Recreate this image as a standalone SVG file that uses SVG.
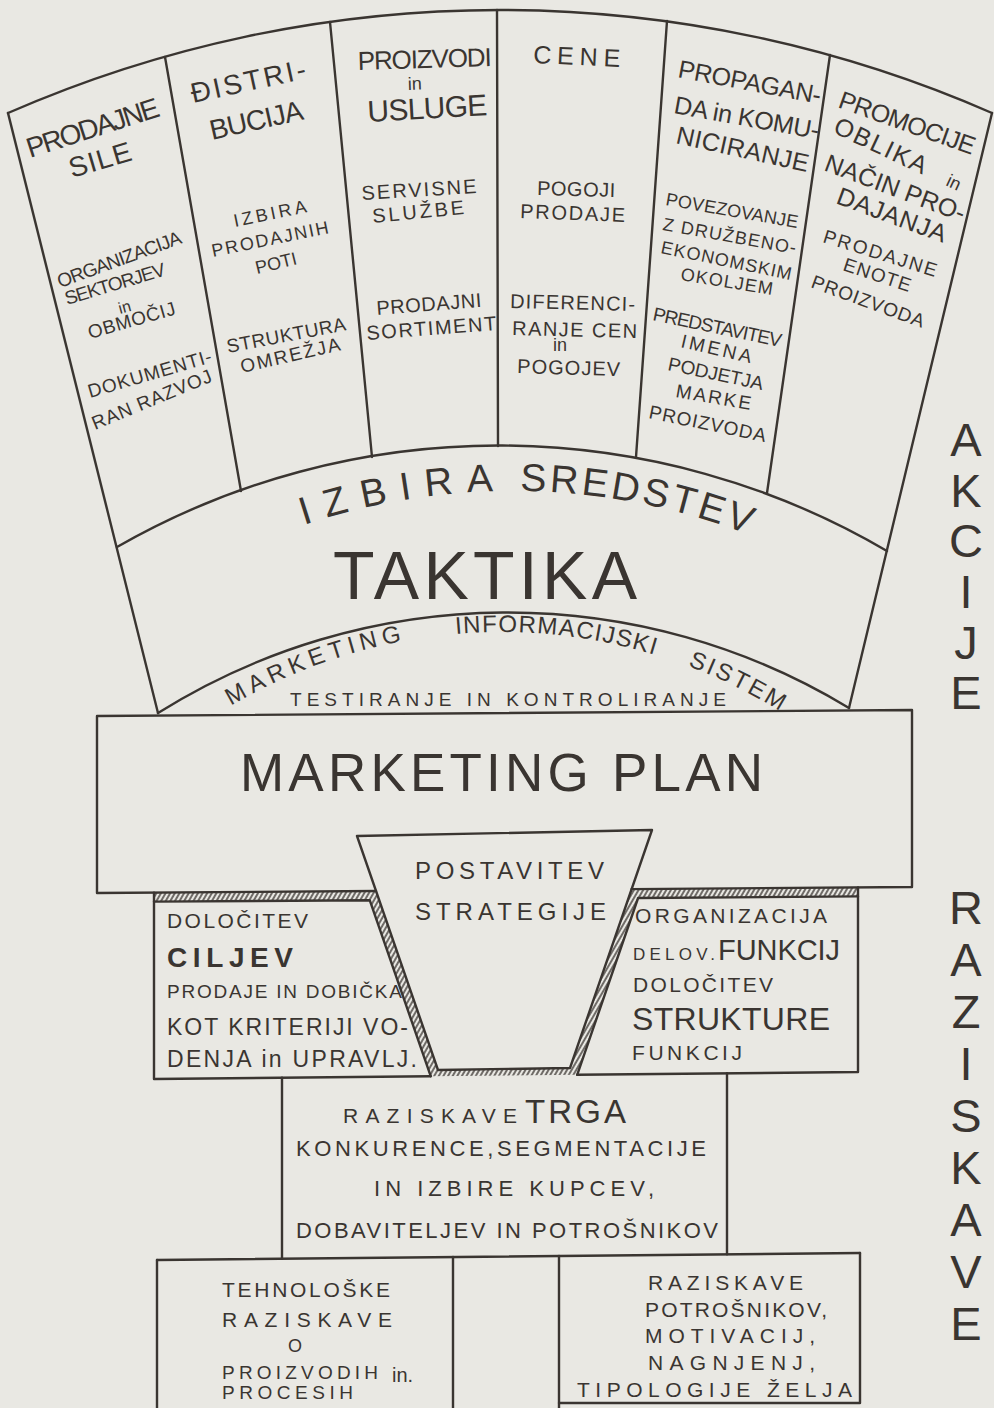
<svg xmlns="http://www.w3.org/2000/svg" width="994" height="1408" viewBox="0 0 994 1408">
<defs>
<style>
.ln{fill:none;stroke:#3a3531;stroke-width:2.4;stroke-linecap:round;stroke-linejoin:round}
text{font-family:"Liberation Sans",Arial,sans-serif;fill:#3a3531}
.b{font-weight:bold}
.v{font-size:47px;text-anchor:middle}
</style>
<pattern id="hatch" patternUnits="userSpaceOnUse" width="4" height="8" patternTransform="rotate(30)">
<line x1="2" y1="0" x2="2" y2="8" stroke="#3a3531" stroke-width="1.4"/>
</pattern>
<path id="izbPath" d="M48.4,683.4 A657,657 0 0 1 977.6,683.4"/>
<path id="misPath" d="M94.2,821.7 A531,531 0 0 1 907.8,821.7"/>
</defs>
<rect x="0" y="0" width="994" height="1408" fill="#e9e8e3"/>

<g id="fan-outline">
<path class="ln" d="M8,113 A1226,1226 0 0 1 992,113"/>
<path class="ln" d="M8,113 L158,713"/>
<path class="ln" d="M992,113 L849,708"/>
<path class="ln" d="M165,57 L241,491"/>
<path class="ln" d="M330,22 L372,457"/>
<path class="ln" d="M497,10 L498,446"/>
<path class="ln" d="M667,21 L636,457"/>
<path class="ln" d="M830,55 L767,493"/>
<path class="ln" d="M117,547 A768,768 0 0 1 887,551"/>
<path class="ln" d="M158,713 A658,658 0 0 1 849,708"/>
</g>

<g id="col-prodajne-sile">
<text x="30" y="158" font-size="28" textLength="138" transform="rotate(-17.8 30 158)">PRODAJNE</text>
<text x="72" y="178" font-size="28" textLength="64" transform="rotate(-16.4 72 178)">SILE</text>
<text x="60" y="288" font-size="19" textLength="131" transform="rotate(-20.1 60 288)">ORGANIZACIJA</text>
<text x="67" y="305" font-size="19" textLength="104" transform="rotate(-16.7 67 305)">SEKTORJEV</text>
<text x="120" y="314" font-size="16" transform="rotate(-15 120 314)">in</text>
<text x="90" y="339" font-size="19" textLength="90" transform="rotate(-16 90 339)">OBMOČIJ</text>
<text x="90" y="398" font-size="19" textLength="128" transform="rotate(-16.3 90 398)">DOKUMENTI-</text>
<text x="95" y="430" font-size="19" textLength="128" transform="rotate(-22.5 95 430)">RAN RAZVOJ</text>
</g>

<g id="col-distribucija">
<text x="193" y="103" font-size="28" textLength="117" transform="rotate(-12.3 193 103)">ĐISTRI-</text>
<text x="212" y="140" font-size="28" textLength="95" transform="rotate(-12.7 212 140)">BUCIJA</text>
<text x="235" y="227" font-size="18" textLength="74" transform="rotate(-11.6 235 227)">IZBIRA</text>
<text x="213" y="257" font-size="18" textLength="119" transform="rotate(-11.6 213 257)">PRODAJNIH</text>
<text x="257" y="274" font-size="18" textLength="42" transform="rotate(-13.7 257 274)">POTI</text>
<text x="228" y="353" font-size="19" textLength="121" transform="rotate(-10.9 228 353)">STRUKTURA</text>
<text x="242" y="373" font-size="19" textLength="102" transform="rotate(-12.9 242 373)">OMREŽJA</text>
</g>

<g id="col-proizvodi-usluge">
<text x="358" y="70" font-size="26" textLength="134" transform="rotate(-1.7 358 70)">PROIZVODI</text>
<text x="408" y="90" font-size="18" transform="rotate(-2 408 90)">in</text>
<text x="368" y="122" font-size="30" textLength="120" transform="rotate(-3.3 368 122)">USLUGE</text>
<text x="362" y="200" font-size="20" textLength="115" transform="rotate(-3.5 362 200)">SERVISNE</text>
<text x="373" y="223" font-size="20" textLength="92" transform="rotate(-5.6 373 223)">SLUŽBE</text>
<text x="377" y="315" font-size="20" textLength="105" transform="rotate(-4.4 377 315)">PRODAJNI</text>
<text x="367" y="340" font-size="20" textLength="130" transform="rotate(-4.4 367 340)">SORTIMENT</text>
</g>

<g id="col-cene">
<text x="533" y="63" font-size="25" textLength="87" transform="rotate(2.6 533 63)">CENE</text>
<text x="537" y="195" font-size="20" textLength="78" transform="rotate(1.5 537 195)">POGOJI</text>
<text x="520" y="218" font-size="20" textLength="105" transform="rotate(2.2 520 218)">PRODAJE</text>
<text x="510" y="308" font-size="20" textLength="125" transform="rotate(1.4 510 308)">DIFERENCI-</text>
<text x="512" y="335" font-size="20" textLength="125" transform="rotate(1.4 512 335)">RANJE CEN</text>
<text x="553" y="351" font-size="18">in</text>
<text x="517" y="373" font-size="20" textLength="103" transform="rotate(1.7 517 373)">POGOJEV</text>
</g>

<g id="col-propaganda">
<text x="677" y="77" font-size="25" textLength="145" transform="rotate(10.7 677 77)">PROPAGAN-</text>
<text x="673" y="113" font-size="25" textLength="147" transform="rotate(10.2 673 113)">DA in KOMU-</text>
<text x="675" y="143" font-size="25" textLength="135" transform="rotate(12.4 675 143)">NICIRANJE</text>
<text x="665" y="205" font-size="18" textLength="134" transform="rotate(9.9 665 205)">POVEZOVANJE</text>
<text x="662" y="230" font-size="18" textLength="135" transform="rotate(10.2 662 230)">Z DRUŽBENO-</text>
<text x="660" y="253" font-size="18" textLength="133" transform="rotate(11.7 660 253)">EKONOMSKIM</text>
<text x="680" y="280" font-size="18" textLength="93" transform="rotate(9.3 680 280)">OKOLJEM</text>
<text x="652" y="320" font-size="19" textLength="131" transform="rotate(11.9 652 320)">PREDSTAVITEV</text>
<text x="680" y="347" font-size="19" textLength="72" transform="rotate(12.9 680 347)">IMENA</text>
<text x="667" y="370" font-size="19" textLength="97" transform="rotate(11.9 667 370)">PODJETJA</text>
<text x="675" y="397" font-size="19" textLength="76" transform="rotate(9.8 675 397)">MARKE</text>
<text x="648" y="418" font-size="19" textLength="119" transform="rotate(11.6 648 418)">PROIZVODA</text>
</g>

<g id="col-promocije">
<text x="837" y="107" font-size="25" textLength="143" transform="rotate(19.6 837 107)">PROMOCIJE</text>
<text x="832" y="132" font-size="25" textLength="100" transform="rotate(25.3 832 132)">OBLIKA</text>
<text x="945" y="185" font-size="18" transform="rotate(25 945 185)">in</text>
<text x="823" y="170" font-size="25" textLength="148" transform="rotate(20.5 823 170)">NAČIN PRO-</text>
<text x="835" y="203" font-size="25" textLength="115" transform="rotate(20.3 835 203)">DAJANJA</text>
<text x="822" y="242" font-size="19" textLength="118" transform="rotate(17.2 822 242)">PRODAJNE</text>
<text x="842" y="270" font-size="19" textLength="70" transform="rotate(18.4 842 270)">ENOTE</text>
<text x="810" y="287" font-size="19" textLength="119" transform="rotate(20.1 810 287)">PROIZVODA</text>
</g>

<g id="taktika">
<text font-size="39" letter-spacing="13.5"><textPath href="#izbPath" startOffset="303">IZBIRA</textPath></text>
<text font-size="39" letter-spacing="3.3"><textPath href="#izbPath" startOffset="523">SREDSTEV</textPath></text>
<text x="333" y="599" font-size="68" textLength="304">TAKTIKA</text>
</g>

<g id="informacijski-sistem">
<text font-size="24" letter-spacing="5.1"><textPath href="#misPath" startOffset="180">MARKETING</textPath></text>
<text font-size="24" letter-spacing="1.3"><textPath href="#misPath" startOffset="418">INFORMACIJSKI</textPath></text>
<text font-size="24" letter-spacing="2.7"><textPath href="#misPath" startOffset="654">SISTEM</textPath></text>
<text x="290" y="706" font-size="19" textLength="436">TESTIRANJE IN KONTROLIRANJE</text>
</g>

<g id="marketing-plan">
<path class="ln" d="M376,891 L97,893 L97,716 L912,710 L912,887 L631.6,889.1"/>
<text x="240" y="791" font-size="53" textLength="523">MARKETING PLAN</text>
</g>

<g id="hatched-band">
<polygon points="154,892.6 376,891 438,1070 570,1068 631.6,889.1 858,887.4 858,896.4 638.1,898 577.2,1074.8 430.7,1076.2 369.8,900.3 154,901.6" fill="url(#hatch)" stroke="none"/>
<path class="ln" d="M154,901.6 L369.8,900.3 L430.7,1076.2"/>
<path class="ln" d="M577.2,1074.8 L638.1,898 L858,896.4"/>
</g>

<g id="postavitev-strategije">
<polygon class="ln" points="357,836 652,830 570,1068 438,1070"/>
<text x="415" y="879" font-size="24" textLength="189">POSTAVITEV</text>
<text x="415" y="920" font-size="24" textLength="191">STRATEGIJE</text>
</g>

<g id="dolocitev-ciljev">
<path class="ln" d="M154,892.6 L154,1079 L430.7,1076.2"/>
<text x="167" y="928" font-size="21" textLength="141">DOLOČITEV</text>
<text x="167" y="967" font-size="28" class="b" textLength="126">CILJEV</text>
<text x="167" y="998" font-size="19" textLength="235">PRODAJE IN DOBIČKA</text>
<text x="167" y="1035" font-size="23" textLength="241">KOT KRITERIJI VO-</text>
<text x="167" y="1067" font-size="23" textLength="250">DENJA  in UPRAVLJ.</text>
</g>

<g id="organizacija-funkcij">
<path class="ln" d="M577.2,1074.8 L858,1072 L858,887.4"/>
<text x="635" y="923" font-size="21" textLength="192">ORGANIZACIJA</text>
<text x="633" y="960" font-size="17" textLength="82">DELOV.</text>
<text x="718" y="960" font-size="29" textLength="122">FUNKCIJ</text>
<text x="633" y="992" font-size="21" textLength="140">DOLOČITEV</text>
<text x="632" y="1030" font-size="32" textLength="198">STRUKTURE</text>
<text x="632" y="1060" font-size="21" textLength="110">FUNKCIJ</text>
</g>

<g id="raziskave-trga">
<path class="ln" d="M282,1077.7 L282,1258.8"/>
<path class="ln" d="M727,1073.3 L727,1254.3"/>
<text x="343" y="1123" font-size="21" textLength="174">RAZISKAVE</text>
<text x="525" y="1123" font-size="33" textLength="101">TRGA</text>
<text x="296" y="1156" font-size="22" textLength="410">KONKURENCE,SEGMENTACIJE</text>
<text x="374" y="1196" font-size="22" textLength="280">IN IZBIRE KUPCEV,</text>
<text x="296" y="1238" font-size="22" textLength="422">DOBAVITELJEV IN POTROŠNIKOV</text>
</g>

<g id="tehnoloske-raziskave">
<path class="ln" d="M157,1260 L860,1253"/>
<path class="ln" d="M157,1260 L157,1408"/>
<path class="ln" d="M453,1257 L453,1408"/>
<text x="222" y="1297" font-size="21" textLength="168">TEHNOLOŠKE</text>
<text x="222" y="1327" font-size="21" textLength="170">RAZISKAVE</text>
<text x="288" y="1352" font-size="18">O</text>
<text x="222" y="1379" font-size="19" textLength="156">PROIZVODIH</text>
<text x="392" y="1382" font-size="20">in.</text>
<text x="222" y="1399" font-size="19" textLength="131">PROCESIH</text>
</g>

<g id="middle-column">
<path class="ln" d="M559,1256 L559,1408"/>
</g>

<g id="raziskave-potrosnikov">
<path class="ln" d="M559,1403 L860,1403 L860,1253"/>
<text x="648" y="1290" font-size="21" textLength="155">RAZISKAVE</text>
<text x="645" y="1317" font-size="21" textLength="182">POTROŠNIKOV,</text>
<text x="645" y="1343" font-size="21" textLength="170">MOTIVACIJ,</text>
<text x="648" y="1370" font-size="21" textLength="167">NAGNJENJ,</text>
<text x="577" y="1397" font-size="21" textLength="275">TIPOLOGIJE ŽELJA</text>
</g>

<g id="akcije-raziskave">
<text class="v" x="966" y="456">A</text>
<text class="v" x="966" y="507">K</text>
<text class="v" x="966" y="557">C</text>
<text class="v" x="966" y="608">I</text>
<text class="v" x="966" y="659">J</text>
<text class="v" x="966" y="709">E</text>
<text class="v" x="966" y="924">R</text>
<text class="v" x="966" y="976">A</text>
<text class="v" x="966" y="1028">Z</text>
<text class="v" x="966" y="1080">I</text>
<text class="v" x="966" y="1132">S</text>
<text class="v" x="966" y="1184">K</text>
<text class="v" x="966" y="1236">A</text>
<text class="v" x="966" y="1288">V</text>
<text class="v" x="966" y="1340">E</text>
</g>

<g id="connectors"></g>
</svg>
